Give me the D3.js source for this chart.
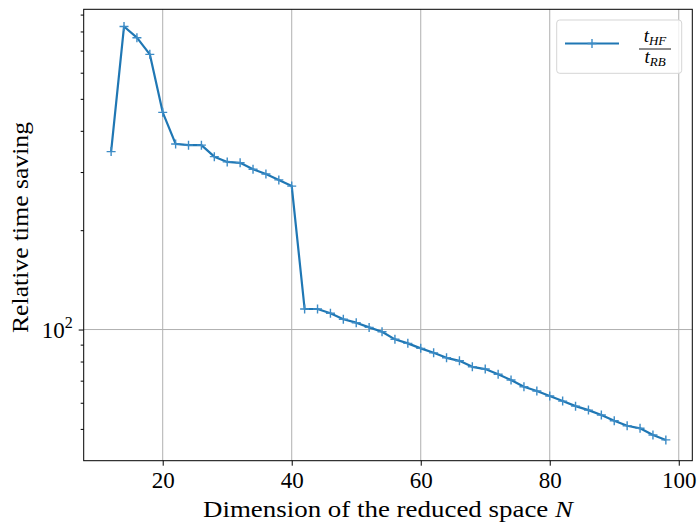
<!DOCTYPE html>
<html>
<head>
<meta charset="utf-8">
<script src="https://cdn.jsdelivr.net/npm/d3@7"></script>
<style>
  body { margin: 0; background: #fff; }
  #chart { width: 697px; height: 523px; }
  text { font-family: "Liberation Serif", "DejaVu Serif", serif; fill: #000; }
</style>
</head>
<body>
<div id="chart"></div>
<script>
/* DATA */
const dims = [12, 14, 16, 18, 20, 22, 24, 26, 28, 30, 32, 34, 36, 38, 40,
              42, 44, 46, 48, 50, 52, 54, 56, 58, 60, 62, 64, 66, 68, 70,
              72, 74, 76, 78, 80, 82, 84, 86, 88, 90, 92, 94, 96, 98];
const saving = [346, 828, 766, 682, 455, 365, 362, 362, 334, 322, 320, 306, 296, 284, 272,
                115.4, 115.4, 112, 107.4, 104.9, 101.5, 98.5, 93.4, 90.8, 87.7, 85.0, 82.1, 80.4, 77.1, 75.9,
                73.2, 70.3, 67.1, 65.1, 62.9, 60.7, 58.6, 57.0, 55.1, 52.9, 51.1, 50.2, 47.9, 46.3];
const xTicks = [20, 40, 60, 80, 100];
const yMajor = [100];
const yMinor = [50, 60, 70, 80, 90, 200, 300, 400, 500, 600, 700, 800, 900];

const data = dims.map((n, i) => ({n: n, v: saving[i]}));

/* SVG */
const width = 697, height = 523;
const margin = {top: 9.3, left: 83.7, right: 4.7, bottom: 62.3};

const svg = d3.select("#chart")
    .append("svg")
    .attr("width", width)
    .attr("height", height);

/* SCALES */
const xScale = d3.scaleLinear()
    .domain([7.75, 102.1])
    .range([margin.left, width - margin.right]);

const yScale = d3.scaleLog()
    .domain([40.05, 933.8])
    .range([height - margin.bottom, margin.top]);

/* GRID */
const grid = svg.append("g").attr("stroke", "#b0b0b0").attr("stroke-width", 1);
grid.selectAll(".gx").data(xTicks).enter().append("line")
    .attr("x1", d => xScale(d)).attr("x2", d => xScale(d))
    .attr("y1", margin.top).attr("y2", height - margin.bottom);
grid.selectAll(".gy").data(yMajor).enter().append("line")
    .attr("x1", margin.left).attr("x2", width - margin.right)
    .attr("y1", d => yScale(d)).attr("y2", d => yScale(d));

/* AXES */
const xAxis = svg.append("g")
    .attr("transform", `translate(0,${height - margin.bottom})`)
    .call(d3.axisBottom(xScale).tickValues(xTicks).tickSize(5).tickPadding(6).tickFormat(d3.format("d")));

const yAxisMinor = svg.append("g")
    .attr("transform", `translate(${margin.left},0)`)
    .call(d3.axisLeft(yScale).tickValues(yMinor).tickSize(3).tickFormat(""));

const yAxis = svg.append("g")
    .attr("transform", `translate(${margin.left},0)`)
    .call(d3.axisLeft(yScale).tickValues(yMajor).tickSize(5).tickPadding(6).tickFormat(""));

svg.selectAll(".domain").remove();
svg.selectAll(".tick line").attr("stroke", "#000").attr("stroke-width", 1);
xAxis.selectAll("text").style("font-size", "23px").attr("fill", "#000")
    .attr("font-family", "Liberation Serif");

yAxis.selectAll(".tick").append("text")
    .attr("x", -11).attr("y", 8)
    .attr("text-anchor", "end")
    .style("font-size", "23px")
    .html('10<tspan dy="-10" font-size="16px">2</tspan>');

/* LINE + MARKERS */
const line = d3.line()
    .x(d => xScale(d.n))
    .y(d => yScale(d.v));

svg.append("path")
    .datum(data)
    .attr("fill", "none")
    .attr("stroke", "#1f77b4")
    .attr("stroke-width", 2.2)
    .attr("stroke-linejoin", "round")
    .attr("d", line);

svg.selectAll(".mk")
    .data(data)
    .enter()
    .append("path")
    .attr("transform", d => `translate(${xScale(d.n)},${yScale(d.v)})`)
    .attr("d", "M-4.5,0H4.5M0,-4.5V4.5")
    .attr("stroke", "#3d8cc6")
    .attr("stroke-width", 1.4)
    .attr("fill", "none");

/* FRAME */
svg.append("rect")
    .attr("x", margin.left).attr("y", margin.top)
    .attr("width", width - margin.left - margin.right)
    .attr("height", height - margin.top - margin.bottom)
    .attr("fill", "none").attr("stroke", "#000").attr("stroke-width", 1);

/* AXIS LABELS */
svg.append("text")
    .attr("x", margin.left + (width - margin.left - margin.right) / 2)
    .attr("y", 517)
    .attr("text-anchor", "middle")
    .attr("textLength", 370)
    .attr("lengthAdjust", "spacingAndGlyphs")
    .style("font-size", "23px")
    .html('Dimension of the reduced space <tspan font-style="italic">N</tspan>');

svg.append("text")
    .attr("transform", "rotate(-90)")
    .attr("x", -227.5)
    .attr("y", 28)
    .attr("text-anchor", "middle")
    .attr("textLength", 211)
    .attr("lengthAdjust", "spacingAndGlyphs")
    .style("font-size", "23px")
    .text("Relative time saving");

/* LEGEND */
const legend = svg.append("g");
legend.append("rect")
    .attr("x", 556.7).attr("y", 20)
    .attr("width", 125).attr("height", 53.3)
    .attr("rx", 3)
    .attr("fill", "#fff").attr("fill-opacity", 0.8)
    .attr("stroke", "#d5d5d5").attr("stroke-width", 1);
legend.append("line")
    .attr("x1", 565).attr("x2", 619)
    .attr("y1", 43.5).attr("y2", 43.5)
    .attr("stroke", "#1f77b4").attr("stroke-width", 2.2);
legend.append("path")
    .attr("transform", "translate(592,43.5)")
    .attr("d", "M-4.5,0H4.5M0,-4.5V4.5")
    .attr("stroke", "#3d8cc6").attr("stroke-width", 1.4);
legend.append("text")
    .attr("x", 655).attr("y", 42)
    .attr("text-anchor", "middle")
    .style("font-size", "19px")
    .html('<tspan font-style="italic">t</tspan><tspan font-style="italic" font-size="13px" dy="3">HF</tspan>');
legend.append("line")
    .attr("x1", 639).attr("x2", 671)
    .attr("y1", 49).attr("y2", 49)
    .attr("stroke", "#000").attr("stroke-width", 0.9);
legend.append("text")
    .attr("x", 655).attr("y", 63)
    .attr("text-anchor", "middle")
    .style("font-size", "19px")
    .html('<tspan font-style="italic">t</tspan><tspan font-style="italic" font-size="13px" dy="3">RB</tspan>');
</script>
</body>
</html>
